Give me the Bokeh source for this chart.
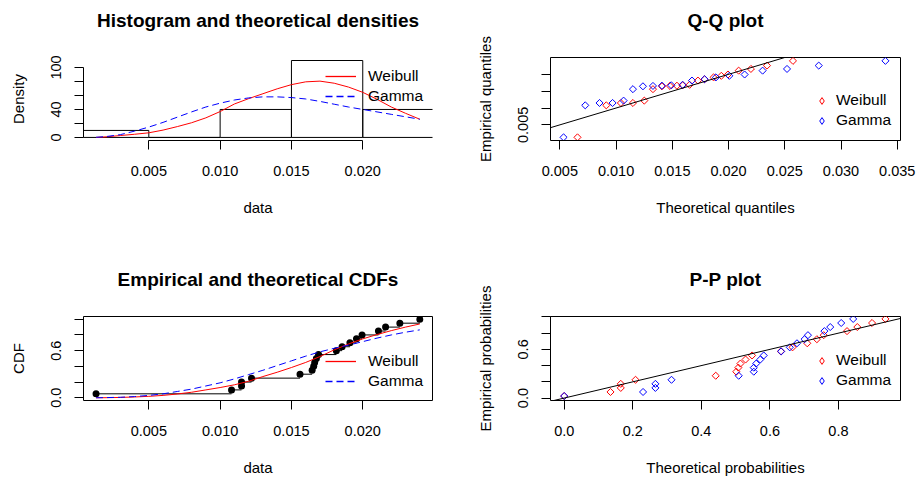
import math

from bokeh.plotting import figure
from bokeh.layouts import gridplot
from bokeh.models import (Range1d, FixedTicker, PrintfTickFormatter, Legend,
                          LegendItem, Slope, Title)
from bokeh.embed import file_html
from bokeh.resources import INLINE

FONT = "Liberation Sans"
RED = "#FF0000"
BLUE = "#0000FF"

# ---------------------------------------------------------------- data
# sorted sample
obs = [0.0013, 0.0108, 0.0115, 0.0115, 0.0122, 0.0156, 0.01645, 0.01656,
       0.01663, 0.01675, 0.0169, 0.01815, 0.01855, 0.0191, 0.01956, 0.01995,
       0.0211, 0.0216, 0.0226, 0.0240]
# empirical CDF level at each sorted observation
ecdf_prob = [0.05, 0.10, 0.15, 0.20, 0.25, 0.30, 0.35, 0.40, 0.45, 0.50,
             0.55, 0.60, 0.65, 0.70, 0.75, 0.80, 0.85, 0.90, 0.95, 1.00]
# plotting positions used by the P-P plot
pp_emp = [0.025, 0.075, 0.125, 0.175, 0.225, 0.275, 0.325, 0.375, 0.425,
          0.475, 0.525, 0.575, 0.625, 0.675, 0.725, 0.775, 0.825, 0.875,
          0.925, 0.975]

# histogram bins (density scale)
hist_left = [0.000, 0.005, 0.010, 0.015, 0.020]
hist_right = [0.005, 0.010, 0.015, 0.020, 0.025]
hist_density = [10, 0, 40, 110, 40]

# fitted curves evaluated on a grid
curve_x = [0.0013, 0.002, 0.003, 0.004, 0.005, 0.006, 0.007, 0.008, 0.009,
           0.010, 0.011, 0.012, 0.013, 0.014, 0.015, 0.016, 0.017, 0.018,
           0.019, 0.020, 0.021, 0.022, 0.023, 0.024]
dens_weibull = [0.0, 0.8, 2.7, 4.5, 6.6, 10.5, 15.5, 21.0, 28.0, 37.0, 47.8,
                55.5, 62.5, 69.5, 75.5, 79.5, 80.5, 77.5, 72.0, 64.5, 54.5,
                43.5, 34.5, 26.0]
dens_gamma = [0.2, 1.2, 4.0, 9.0, 14.8, 21.5, 29.0, 36.5, 43.5, 49.0, 53.5,
              56.5, 58.0, 58.0, 57.0, 55.0, 51.5, 47.5, 43.5, 40.0, 36.5,
              33.0, 29.5, 26.0]
cdf_weibull = [0.000, 0.001, 0.004, 0.010, 0.018, 0.030, 0.048, 0.070, 0.100,
               0.130, 0.165, 0.210, 0.270, 0.325, 0.385, 0.450, 0.525, 0.610,
               0.685, 0.750, 0.805, 0.855, 0.900, 0.940]
cdf_gamma = [0.000, 0.002, 0.006, 0.015, 0.030, 0.050, 0.080, 0.110, 0.150,
             0.190, 0.240, 0.295, 0.350, 0.410, 0.470, 0.530, 0.585, 0.630,
             0.670, 0.715, 0.760, 0.800, 0.835, 0.865]

# theoretical quantiles at the plotting positions
qq_weibull = [0.00657, 0.00913, 0.01043, 0.0115, 0.01251, 0.01328, 0.01408,
              0.01479, 0.01541, 0.01592, 0.01654, 0.01728, 0.01787, 0.01867,
              0.01936, 0.01995, 0.0209, 0.02199, 0.02342, 0.02573]
qq_gamma = [0.00533, 0.00726, 0.00853, 0.00969, 0.01067, 0.0115, 0.01239,
            0.01328, 0.01408, 0.01491, 0.01592, 0.01675, 0.01787, 0.01888,
            0.02007, 0.02143, 0.02303, 0.0252, 0.02802, 0.03395]

# theoretical probabilities at the sorted observations
pp_weibull = [0.000, 0.135, 0.165, 0.165, 0.208, 0.442, 0.502, 0.508, 0.514,
              0.529, 0.548, 0.632, 0.666, 0.709, 0.737, 0.757, 0.825, 0.855,
              0.898, 0.937]
pp_gamma = [0.000, 0.230, 0.266, 0.266, 0.313, 0.509, 0.553, 0.553, 0.560,
            0.572, 0.582, 0.633, 0.658, 0.679, 0.701, 0.711, 0.759, 0.776,
            0.808, 0.843]

fit_names = ["Weibull", "Gamma"]

DASH = "7 4"
NAN = float("nan")


# ---------------------------------------------------------------- helpers
def panel(title, xr, yr, frame, boxed, xlab, ylab, xticks, yticks, xfmt, yfmt):
    left, right, top, bottom = frame
    p = figure(width=458, height=239, x_range=Range1d(*xr), y_range=Range1d(*yr),
               output_backend="svg", toolbar_location=None, title_location=None,
               min_border_left=left, min_border_right=458 - right,
               min_border_top=top, min_border_bottom=239 - bottom)
    # gap between the frame and the title, then the title itself
    p.add_layout(Title(text=" ", text_font_size="2px", standoff=23), "above")
    p.add_layout(Title(text=title, align="center", text_font=FONT,
                       text_font_size="19px", text_font_style="bold",
                       text_color="black", standoff=0), "above")
    p.grid.visible = False
    p.outline_line_color = "black" if boxed else None
    p.outline_line_width = 1
    p.background_fill_color = "white"
    p.border_fill_color = "white"

    xmaj, xmin = xticks
    ymaj, ymin = yticks
    p.xaxis.ticker = FixedTicker(ticks=xmaj, minor_ticks=xmin)
    p.yaxis.ticker = FixedTicker(ticks=ymaj, minor_ticks=ymin)
    p.xaxis.formatter = PrintfTickFormatter(format=xfmt)
    p.yaxis.formatter = PrintfTickFormatter(format=yfmt)
    allx = sorted(xmaj + xmin)
    ally = sorted(ymaj + ymin)
    p.xaxis.bounds = (allx[0], allx[-1])
    p.yaxis.bounds = (ally[0], ally[-1])
    p.xaxis.axis_label = xlab
    p.yaxis.axis_label = ylab

    for ax in (p.xaxis[0], p.yaxis[0]):
        ax.axis_line_color = "black"
        ax.axis_line_width = 1
        ax.major_tick_line_color = "black"
        ax.minor_tick_line_color = "black"
        ax.major_tick_out = 9
        ax.major_tick_in = 0
        ax.minor_tick_out = 9
        ax.minor_tick_in = 0
        ax.major_label_text_font = FONT
        ax.major_label_text_font_size = "14.5px"
        ax.major_label_text_color = "black"
        ax.axis_label_text_font = FONT
        ax.axis_label_text_font_size = "15px"
        ax.axis_label_text_font_style = "normal"
        ax.axis_label_text_color = "black"
    p.xaxis.major_label_standoff = 16
    p.yaxis.major_label_standoff = 13
    p.xaxis.axis_label_standoff = 20
    p.yaxis.axis_label_standoff = 22
    p.yaxis.major_label_orientation = "vertical"
    return p


def legend(p, renderers, loc, glyph_w, glyph_h, standoff):
    items = [LegendItem(label=n, renderers=[r]) for n, r in zip(fit_names, renderers)]
    leg = Legend(items=items, location=loc, orientation="vertical",
                 padding=0, margin=0, spacing=0,
                 border_line_color=None, background_fill_alpha=0,
                 glyph_width=glyph_w, glyph_height=glyph_h, label_height=20,
                 label_standoff=standoff, label_text_font=FONT,
                 label_text_font_size="15.5px", label_text_color="black")
    p.add_layout(leg)


def diamond_keys(p):
    # legend keys: open diamonds (markers in a legend are drawn unrotated);
    # their single point has no position, so only the legend shows them
    k1 = p.scatter(x=[NAN], y=[NAN], marker="diamond", fill_color=None,
                   line_color=RED, line_width=1)
    k2 = p.scatter(x=[NAN], y=[NAN], marker="diamond", fill_color=None,
                   line_color=BLUE, line_width=1)
    return [k1, k2]


def line_keys(p):
    # legend keys: solid red and dashed blue line samples
    k1 = p.line(x=[NAN, NAN], y=[NAN, NAN], line_color=RED, line_alpha=1.0,
                line_width=1.3)
    k2 = p.line(x=[NAN, NAN], y=[NAN, NAN], line_color=BLUE, line_alpha=1.0,
                line_width=1.3, line_dash=DASH)
    return [k1, k2]


# ---------------------------------------------------------------- histogram
p1 = panel("Histogram and theoretical densities", (0.00042, 0.02489), (-4.4, 114.3),
           (83, 432, 57, 140), False, "data", "Density",
           ([0.005, 0.01, 0.015, 0.02], []), ([0, 40, 100], [20, 60, 80]),
           "%.3f", "%.0f")
p1.quad(left=hist_left, right=hist_right, bottom=0, top=hist_density,
        fill_color=None, line_color="black", line_width=1)
p1.line(curve_x, dens_weibull, line_color=RED, line_width=1)
p1.line(curve_x, dens_gamma, line_color=BLUE, line_width=1, line_dash=DASH)
legend(p1, line_keys(p1), (242, 34), 31, 20, 12)

# ---------------------------------------------------------------- Q-Q plot
p2 = panel("Q-Q plot", (0.00417, 0.03529), (0.00036, 0.0250),
           (92, 442, 56, 141), True, "Theoretical quantiles", "Empirical quantiles",
           ([0.005, 0.01, 0.015, 0.02, 0.025, 0.03, 0.035], []),
           ([0.005], [0.01, 0.015, 0.02]), "%.3f", "%.3f")
p2.scatter(qq_weibull, obs, marker="square", angle=math.pi / 4, size=5,
           fill_color=None, line_color=RED, line_width=1)
p2.scatter(qq_gamma, obs, marker="square", angle=math.pi / 4, size=5,
           fill_color=None, line_color=BLUE, line_width=1)
p2.add_layout(Slope(gradient=1, y_intercept=0, line_color="black", line_width=1))
legend(p2, diamond_keys(p2), (263, 10), 17, 17, 6)

# ---------------------------------------------------------------- CDFs
p3 = panel("Empirical and theoretical CDFs", (0.00042, 0.02489), (-0.035, 1.035),
           (83, 432, 77, 162), True, "data", "CDF",
           ([0.005, 0.01, 0.015, 0.02], []), ([0.0, 0.6], [0.2, 0.4, 0.8, 1.0]),
           "%.3f", "%.1f")
p3.segment(x0=obs[:-1], y0=ecdf_prob[:-1], x1=obs[1:], y1=ecdf_prob[:-1],
           line_color="black", line_width=1)
p3.scatter(obs, ecdf_prob, marker="circle", size=7, fill_color="black",
           line_color=None)
p3.line(curve_x, cdf_weibull, line_color=RED, line_width=1)
p3.line(curve_x, cdf_gamma, line_color=BLUE, line_width=1, line_dash=DASH)
legend(p3, line_keys(p3), (242, 9), 31, 20, 12)

# ---------------------------------------------------------------- P-P plot
p4 = panel("P-P plot", (-0.040, 0.981), (-0.03, 1.005),
           (92, 442, 77, 162), True, "Theoretical probabilities", "Empirical probabilities",
           ([0.0, 0.2, 0.4, 0.6, 0.8], []), ([0.0, 0.6], [0.2, 0.4, 0.8, 1.0]),
           "%.1f", "%.1f")
p4.scatter(pp_weibull, pp_emp, marker="square", angle=math.pi / 4, size=5,
           fill_color=None, line_color=RED, line_width=1)
p4.scatter(pp_gamma, pp_emp, marker="square", angle=math.pi / 4, size=5,
           fill_color=None, line_color=BLUE, line_width=1)
p4.add_layout(Slope(gradient=1, y_intercept=0, line_color="black", line_width=1))
legend(p4, diamond_keys(p4), (263, 10), 17, 17, 6)

grid = gridplot([[p1, p2], [p3, p4]], toolbar_location=None)

open("out.html", "w").write(file_html(grid, INLINE))
